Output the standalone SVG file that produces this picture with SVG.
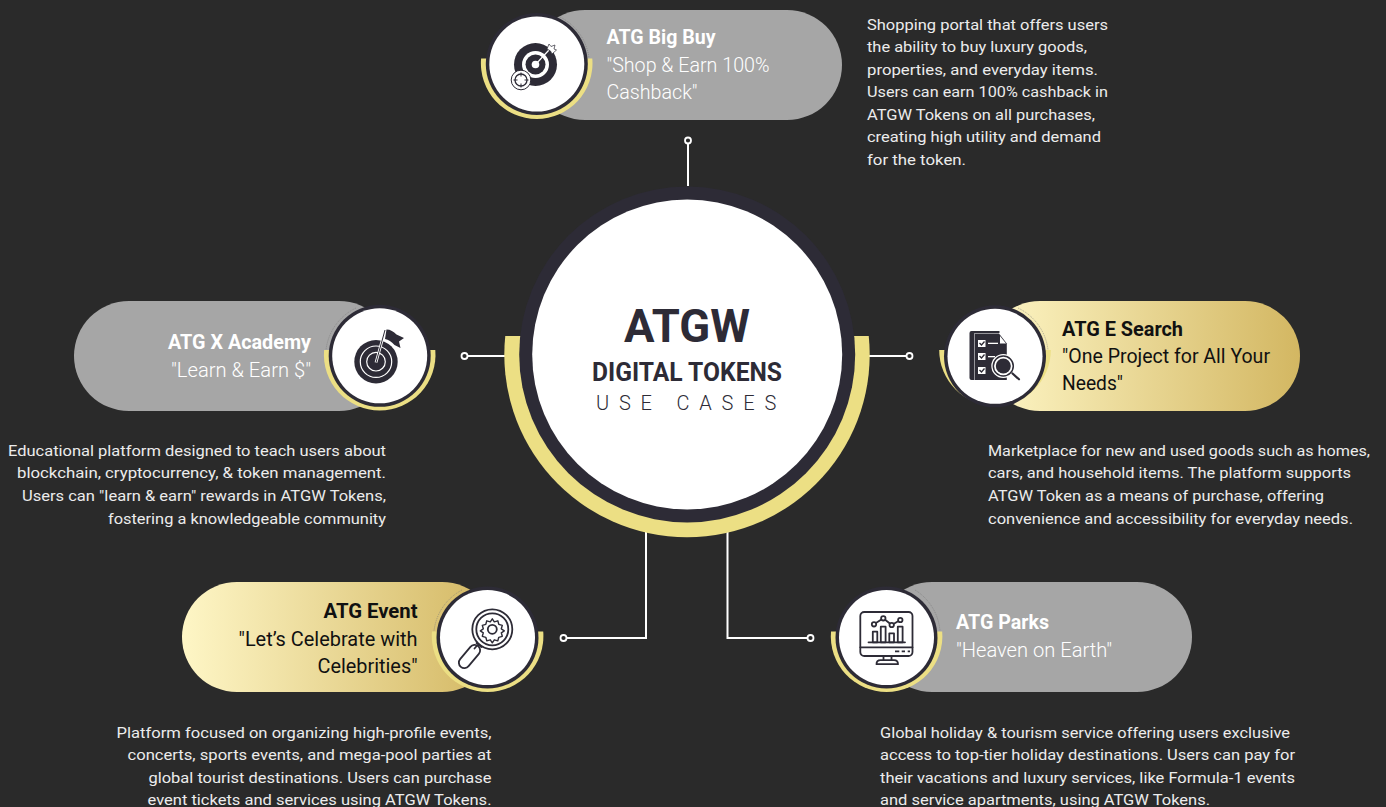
<svg xmlns="http://www.w3.org/2000/svg" width="1386" height="807" viewBox="0 0 1386 807">
<style>
text{font-family:Roboto,"Liberation Sans",sans-serif}
.d{font-size:15.5px;fill:#ececec;font-weight:400}
.t{font-size:20px;font-weight:700}
.s{font-size:20.5px;font-weight:300}
.w{fill:#fff}
.k{fill:#111}
.k.s{font-weight:400}
.g{fill:#a6a6a6}
.y{fill:#ecdf84}
.r{fill:#2d2b36}
.c{fill:#fff}
.dot{fill:#2a2a2a;stroke:#fff;stroke-width:1.8}
.ln{fill:none;stroke:#fff;stroke-width:2}
.i{fill:none;stroke:#2d2b36;stroke-width:1.8;stroke-linecap:round;stroke-linejoin:round}
.if{fill:#2d2b36}
.ar{fill:none;stroke:#777;stroke-width:.6;stroke-dasharray:1 1}
</style>
<defs>
<linearGradient id="gr1" x1="0" x2="1" y1="0" y2="0"><stop offset="0" stop-color="#fef6c6"/><stop offset="1" stop-color="#d3b762"/></linearGradient>
</defs>
<rect width="1386" height="807" fill="#2a2a2a"/>
<g id="connectors">
<path class="ln" d="M688 144V186"/><circle class="dot" cx="688" cy="140.5" r="3"/>
<path class="ln" d="M468 356H505"/><circle class="dot" cx="464.500" cy="356" r="3"/>
<path class="ln" d="M869 356H906"/><circle class="dot" cx="909.500" cy="356" r="3"/>
<path class="ln" d="M646 532V638H567"/><circle class="dot" cx="563.500" cy="638" r="3"/>
<path class="ln" d="M727.500 532V638H807"/><circle class="dot" cx="810.500" cy="638" r="3"/>
</g>
<g id="center">
<path class="y" d="M505.250 336A182.700 182.700 0 1 0 868.750 336Z"/>
<circle class="r" cx="687.200" cy="354.400" r="168"/>
<circle class="c" cx="687.200" cy="354.400" r="155"/>
<text x="687" y="342" text-anchor="middle" font-size="47" font-weight="700" fill="#2d2b36" textLength="126" lengthAdjust="spacingAndGlyphs">ATGW</text>
<text x="687" y="380.500" text-anchor="middle" font-size="25" font-weight="700" fill="#2d2b36" textLength="190" lengthAdjust="spacingAndGlyphs">DIGITAL TOKENS</text>
<text x="596" y="410" font-size="20" font-weight="300" fill="#2d2b36" letter-spacing="9.800">USE CASES</text>
</g>
<g id="node-bigbuy">
<rect class="g" x="530" y="10" width="312" height="110" rx="55"/>
<path class="y" d="M481.100 58.500A55.800 55.800 0 1 0 592.300 58.500Z"/>
<path class="ar" d="M560 17A53 53 0 0 1 589 58"/>
<circle class="r" cx="536.800" cy="64" r="51"/>
<circle class="c" cx="536.800" cy="64" r="47.500"/>
<circle class="if" cx="535.500" cy="64.500" r="21.500"/>
<circle class="c" cx="535.500" cy="64.500" r="13.500"/>
<circle class="if" cx="535.500" cy="64.500" r="10"/>
<circle class="c" cx="535.500" cy="64.500" r="3.800"/>
<path d="M535.500 64.500L549 50" stroke="#fff" stroke-width="1.200"/>
<path d="M547 49l2-5 2 2.500 4-1.500-1 4 2.500 1-4.500 4-1.500-3z" fill="#fff" stroke="#2d2b36" stroke-width=".7"/>
<circle cx="521" cy="80" r="9.800" fill="#fff" stroke="#2d2b36" stroke-width="1"/>
<circle cx="521" cy="80" r="6" fill="none" stroke="#2d2b36" stroke-width="1.300"/>
<path d="M521 72.500v4M521 83.500v4M513.500 80h4M524.500 80h4" stroke="#2d2b36" stroke-width="1"/>
<text class="t w" x="606.500" y="44" textLength="109" lengthAdjust="spacingAndGlyphs">ATG Big Buy</text>
<text class="s w" x="606.500" y="72" textLength="163" lengthAdjust="spacingAndGlyphs">"Shop &amp; Earn 100%</text>
<text class="s w" x="606.500" y="99" textLength="91" lengthAdjust="spacingAndGlyphs">Cashback"</text>
</g>
<g id="node-academy">
<rect class="g" x="74" y="301" width="320" height="110" rx="55"/>
<path class="y" d="M324.100 350A55.800 55.800 0 1 0 435.300 350Z"/>
<path class="ar" d="M356 308A53 53 0 0 0 326 350"/>
<circle class="r" cx="379.700" cy="355.800" r="51"/>
<circle class="c" cx="379.700" cy="355.800" r="47.500"/>
<circle class="if" cx="376" cy="361.700" r="21.700"/>
<circle cx="376" cy="361.700" r="15.700" fill="none" stroke="#fff" stroke-width="1.200"/>
<circle cx="376" cy="361.700" r="9.300" fill="none" stroke="#fff" stroke-width="1.200"/>
<path d="M376 362.500L385 330" stroke="#fff" stroke-width="2.800"/>
<path d="M376 362.500L385 330" stroke="#2d2b36" stroke-width="1"/>
<path d="M386.500 329.500c4 0 7 2 10 5l7.500 3.500-5 3.500 1.500 6.500-6-3c-3-3-6-5.500-9.500-6z" class="if"/>
<text class="t w" x="311" y="349" text-anchor="end" textLength="143" lengthAdjust="spacingAndGlyphs">ATG X Academy</text>
<text class="s w" x="311" y="377" text-anchor="end" textLength="140" lengthAdjust="spacingAndGlyphs">"Learn &amp; Earn $"</text>
</g>
<g id="node-esearch">
<rect fill="url(#gr1)" x="985" y="301" width="315" height="110" rx="55"/>
<path class="y" d="M939.200 350A55.800 55.800 0 1 0 1050.800 350Z"/>
<path class="ar" d="M1018 308A53 53 0 0 1 1048 350"/>
<circle class="r" cx="995" cy="356.300" r="51"/>
<circle class="c" cx="995" cy="356.300" r="47.500"/>
<path class="if" d="M969.500 333q0-2 2-2h28v2h-25v47h-3q-2 0-2-2z"/>
<path class="if" d="M975 333.500h24l7.800 10V380H975z"/>
<path class="c" d="M1000 336l6 7.500h-6z"/>
<g fill="#fff"><rect x="978" y="340" width="7.500" height="7"/><rect x="978" y="353" width="7.500" height="7"/><rect x="978" y="367" width="7.500" height="7"/><rect x="988" y="342.700" width="10" height="1.300"/><rect x="988" y="356" width="7" height="1.300"/></g>
<g fill="none" stroke="#2d2b36" stroke-width="1.300"><path d="M979.500 343l2 2 3-3.500M979.500 356l2 2 3-3.500M979.500 370l2 2 3-3.500"/></g>
<circle cx="1003.300" cy="366" r="12" fill="#fff"/>
<circle cx="1003.300" cy="366" r="10" fill="none" stroke="#2d2b36" stroke-width="1.500"/>
<circle class="if" cx="1003.300" cy="366" r="7.500"/>
<path d="M1012.500 373.500l6.500 5.800" stroke="#2d2b36" stroke-width="2.200" stroke-linecap="round"/>
<text class="t k" x="1062" y="336" textLength="121" lengthAdjust="spacingAndGlyphs">ATG E Search</text>
<text class="s k" x="1062" y="363" textLength="208" lengthAdjust="spacingAndGlyphs">"One Project for All Your</text>
<text class="s k" x="1062" y="390" textLength="61" lengthAdjust="spacingAndGlyphs">Needs"</text>
</g>
<g id="node-event">
<rect fill="url(#gr1)" x="182" y="582" width="315" height="110" rx="55"/>
<path class="y" d="M432 631.500A55.800 55.800 0 1 0 543.200 631.500Z"/>
<path class="ar" d="M462 590A53 53 0 0 0 434 631"/>
<circle class="r" cx="487.500" cy="637.500" r="51"/>
<circle class="c" cx="487.500" cy="637.500" r="47.500"/>
<circle class="i" cx="492.300" cy="629.300" r="20"/>
<circle class="i" cx="492.300" cy="629.300" r="16"/>
<circle class="i" cx="492.300" cy="629.300" r="4.500"/>
<path class="i" d="M492.300 618.800l2 3 3.500-1 1 3.500 3.500 1-1 3.500 3 2-3 2 1 3.500-3.500 1-1 3.500-3.500-1-2 3-2-3-3.500 1-1-3.500-3.500-1 1-3.500-3-2 3-2-1-3.500 3.500-1 1-3.500 3.500 1z" style="stroke-width:1.400"/>
<path class="i" d="M478 644.500l-3.500 4M476.500 643l5 4"/>
<rect class="i" x="464" y="643" width="11" height="27" rx="5.500" transform="rotate(40 469.500 656.500)"/>
<text class="t k" x="417.500" y="618" text-anchor="end" textLength="94" lengthAdjust="spacingAndGlyphs">ATG Event</text>
<text class="s k" x="417.500" y="646" text-anchor="end" textLength="179" lengthAdjust="spacingAndGlyphs">"Let’s Celebrate with</text>
<text class="s k" x="417.500" y="673" text-anchor="end" textLength="100" lengthAdjust="spacingAndGlyphs">Celebrities"</text>
</g>
<g id="node-parks">
<rect class="g" x="877" y="582" width="315" height="110" rx="55"/>
<path class="y" d="M831 631.500A55.800 55.800 0 1 0 942.200 631.500Z"/>
<path class="ar" d="M915 590A53 53 0 0 1 940 631"/>
<circle class="r" cx="886.500" cy="637.500" r="51"/>
<circle class="c" cx="886.500" cy="637.500" r="47.500"/>
<rect class="i" x="860.300" y="612" width="52.200" height="44" rx="4"/>
<path class="i" d="M860.300 647.300h52.200M868.500 642.300h36.500M883.500 656v4M891.500 656v4M876.500 664.200q0-4 4-4h13.500q4 0 4 4z"/>
<rect class="i" x="872.800" y="631.700" width="4.500" height="10.600"/>
<rect class="i" x="880.800" y="626.700" width="4.800" height="15.600"/>
<rect class="i" x="889.300" y="633.300" width="4.700" height="9"/>
<rect class="i" x="897.800" y="626.700" width="4.800" height="15.600"/>
<path class="i" d="M874 624.300L883.300 618.300L891.700 625L900.300 620"/>
<circle class="i" cx="874" cy="624.300" r="2.200" style="fill:#fff"/>
<circle class="i" cx="883.300" cy="618.300" r="2.200" style="fill:#fff"/>
<circle class="i" cx="891.700" cy="625" r="2.200" style="fill:#fff"/>
<circle class="i" cx="900.300" cy="620" r="2.200" style="fill:#fff"/>
<path d="M895 651.300h4.300M901.700 651.300h3.300M907.700 651.300h2.300" stroke="#2d2b36" stroke-width="1.800"/>
<text class="t w" x="956" y="629" textLength="93" lengthAdjust="spacingAndGlyphs">ATG Parks</text>
<text class="s w" x="956" y="657" textLength="156" lengthAdjust="spacingAndGlyphs">"Heaven on Earth"</text>
</g>
<g id="desc-bigbuy">
<text class="d" x="867" y="29.500" textLength="241" lengthAdjust="spacingAndGlyphs">Shopping portal that offers users</text>
<text class="d" x="867" y="52" textLength="220" lengthAdjust="spacingAndGlyphs">the ability to buy luxury goods,</text>
<text class="d" x="867" y="74.500" textLength="231" lengthAdjust="spacingAndGlyphs">properties, and everyday items.</text>
<text class="d" x="867" y="97" textLength="241" lengthAdjust="spacingAndGlyphs">Users can earn 100% cashback in</text>
<text class="d" x="867" y="119.500" textLength="228" lengthAdjust="spacingAndGlyphs">ATGW Tokens on all purchases,</text>
<text class="d" x="867" y="142" textLength="234" lengthAdjust="spacingAndGlyphs">creating high utility and demand</text>
<text class="d" x="867" y="164.500" textLength="99" lengthAdjust="spacingAndGlyphs">for the token.</text>
</g>
<g id="desc-academy" text-anchor="end">
<text class="d" x="386" y="456" textLength="378" lengthAdjust="spacingAndGlyphs">Educational platform designed to teach users about</text>
<text class="d" x="386" y="478" textLength="369" lengthAdjust="spacingAndGlyphs">blockchain, cryptocurrency, &amp; token management.</text>
<text class="d" x="386" y="501" textLength="364" lengthAdjust="spacingAndGlyphs">Users can "learn &amp; earn" rewards in ATGW Tokens,</text>
<text class="d" x="386" y="523.500" textLength="278" lengthAdjust="spacingAndGlyphs">fostering a knowledgeable community</text>
</g>
<g id="desc-esearch">
<text class="d" x="988" y="456" textLength="382" lengthAdjust="spacingAndGlyphs">Marketplace for new and used goods such as homes,</text>
<text class="d" x="988" y="478" textLength="363" lengthAdjust="spacingAndGlyphs">cars, and household items. The platform supports</text>
<text class="d" x="988" y="501" textLength="336" lengthAdjust="spacingAndGlyphs">ATGW Token as a means of purchase, offering</text>
<text class="d" x="988" y="523.500" textLength="365" lengthAdjust="spacingAndGlyphs">convenience and accessibility for everyday needs.</text>
</g>
<g id="desc-event" text-anchor="end">
<text class="d" x="491.500" y="738" textLength="375" lengthAdjust="spacingAndGlyphs">Platform focused on organizing high-profile events,</text>
<text class="d" x="491.500" y="760" textLength="364" lengthAdjust="spacingAndGlyphs">concerts, sports events, and mega-pool parties at</text>
<text class="d" x="491.500" y="782.500" textLength="343" lengthAdjust="spacingAndGlyphs">global tourist destinations. Users can purchase</text>
<text class="d" x="491.500" y="804.500" textLength="344" lengthAdjust="spacingAndGlyphs">event tickets and services using ATGW Tokens.</text>
</g>
<g id="desc-parks">
<text class="d" x="880" y="738" textLength="410" lengthAdjust="spacingAndGlyphs">Global holiday &amp; tourism service offering users exclusive</text>
<text class="d" x="880" y="760" textLength="415" lengthAdjust="spacingAndGlyphs">access to top-tier holiday destinations. Users can pay for</text>
<text class="d" x="880" y="782.500" textLength="415" lengthAdjust="spacingAndGlyphs">their vacations and luxury services, like Formula-1 events</text>
<text class="d" x="880" y="804.500" textLength="330" lengthAdjust="spacingAndGlyphs">and service apartments, using ATGW Tokens.</text>
</g>
</svg>
